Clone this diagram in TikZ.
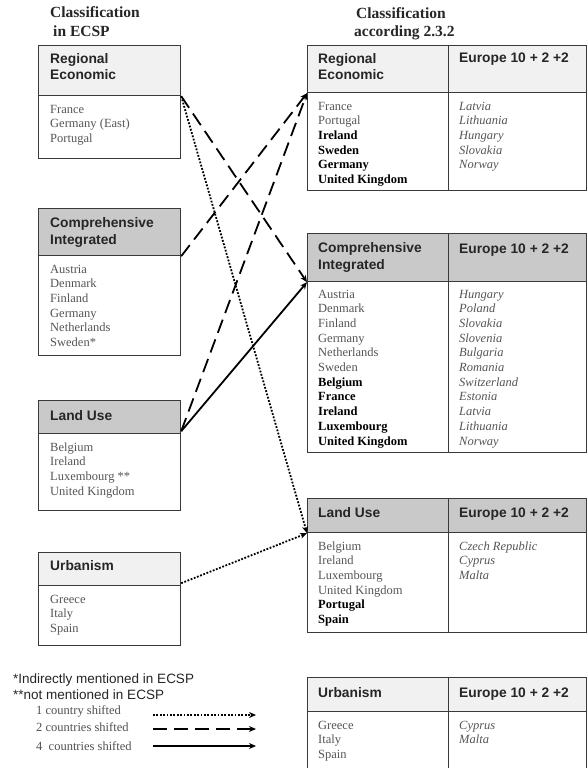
\documentclass[tikz,border=0pt]{standalone}
\usepackage{fontspec}
\setmainfont{Liberation Serif}
\setsansfont{Liberation Sans}
\usetikzlibrary{arrows.meta}
\definecolor{hlight}{HTML}{F1F1F1}
\definecolor{hdark}{HTML}{C9C9C9}
\definecolor{edge}{HTML}{3A3A3A}
\definecolor{plain}{HTML}{555555}
\definecolor{htext}{HTML}{262626}
\newcommand\Bo{\color{black}\bfseries}
\newcommand\colist[5]{%
  \foreach \t [count=\i from 0] in {#5} {%
    \node[#4, anchor=base west] (#1\i) at (#2, {#3+14.7*\i}) {\t};}}
\tikzset{
  cell/.style={draw=edge, line width=1.2pt, rectangle, inner sep=0pt, anchor=north west},
  hl/.style={cell, fill=hlight},
  hd/.style={cell, fill=hdark},
  bd/.style={cell, fill=white},
  htxt/.style={inner sep=0pt, font=\sffamily\bfseries\fontsize{13.8}{16.5}\selectfont, text=htext, align=left},
  ctry/.style={inner sep=0pt, font=\fontsize{12.5}{14.7}\selectfont, text=plain},
  ital/.style={ctry, font=\itshape\fontsize{12.5}{14.7}\selectfont},
  title/.style={inner sep=0pt, anchor=base west, font=\bfseries\fontsize{15.5}{18}\selectfont, text=htext},
  conn/.style={line width=1.8pt, -{Stealth[length=7pt,width=6pt]}},
  dotline/.style={conn, dash pattern=on 1.8pt off 1.6pt},
  dashline/.style={conn, dash pattern=on 14pt off 7pt},
  solidline/.style={conn},
}
\begin{document}
\begin{tikzpicture}[x=1pt, y=-1pt]
\clip (0,0) rectangle (587,768);
\fill[white] (0,0) rectangle (587,768);

% titles
\node[title] (t1) at (50,18) {Classification};
\node[title] (t2) at (53,37) {in ECSP};
\node[title] (t3) at (356,19) {Classification};
\node[title] (t4) at (354,37) {according 2.3.2};

% ---------- left boxes ----------
\node[hl, minimum width=142pt, minimum height=50pt] (reLh) at (38,45) {};
\node[bd, minimum width=142pt, minimum height=63pt] (reLb) at (38,95) {};
\node[htxt, anchor=base west] (reLt) at (50,80) {Regional\\Economic};
\colist{reLc}{50}{113}{ctry}{France,Germany (East),Portugal}

\node[hd, minimum width=142pt, minimum height=47pt] (ciLh) at (38,208) {};
\node[bd, minimum width=142pt, minimum height=100pt] (ciLb) at (38,255) {};
\node[htxt, anchor=base west] (ciLt) at (50,244) {Comprehensive\\Integrated};
\colist{ciLc}{50}{273}{ctry}{Austria,Denmark,Finland,Germany,Netherlands,Sweden*}

\node[hd, minimum width=142pt, minimum height=33pt] (luLh) at (38,400) {};
\node[bd, minimum width=142pt, minimum height=77pt] (luLb) at (38,433) {};
\node[htxt, anchor=base west] (luLt) at (50,420) {Land Use};
\colist{luLc}{50}{451}{ctry}{Belgium,Ireland,Luxembourg **,United Kingdom}

\node[hl, minimum width=142pt, minimum height=33pt] (urLh) at (38,552) {};
\node[bd, minimum width=142pt, minimum height=60pt] (urLb) at (38,585) {};
\node[htxt, anchor=base west] (urLt) at (50,570) {Urbanism};
\colist{urLc}{50}{603}{ctry}{Greece,Italy,Spain}

% ---------- right boxes ----------
\node[hl, minimum width=141pt, minimum height=47pt] (reRh) at (307,45) {};
\node[hl, minimum width=138pt, minimum height=47pt] (reRh2) at (448,45) {};
\node[bd, minimum width=141pt, minimum height=98pt] (reRb) at (307,92) {};
\node[bd, minimum width=138pt, minimum height=98pt] (reRb2) at (448,92) {};
\node[htxt, anchor=base west] (reRt) at (318,80) {Regional\\Economic};
\node[htxt, anchor=base west] (reRe) at (459,63) {Europe 10 + 2 +2};
\colist{reRc}{318}{110}{ctry}{France,Portugal,{\Bo Ireland},{\Bo Sweden},{\Bo Germany},{\Bo United Kingdom}}
\colist{reRi}{459}{110}{ital}{Latvia,Lithuania,Hungary,Slovakia,Norway}

\node[hd, minimum width=141pt, minimum height=48pt] (ciRh) at (307,233) {};
\node[hd, minimum width=138pt, minimum height=48pt] (ciRh2) at (448,233) {};
\node[bd, minimum width=141pt, minimum height=171pt] (ciRb) at (307,281) {};
\node[bd, minimum width=138pt, minimum height=171pt] (ciRb2) at (448,281) {};
\node[htxt, anchor=base west] (ciRt) at (318,269) {Comprehensive\\Integrated};
\node[htxt, anchor=base west] (ciRe) at (459,253) {Europe 10 + 2 +2};
\colist{ciRc}{318}{298}{ctry}{Austria,Denmark,Finland,Germany,Netherlands,Sweden,{\Bo Belgium},{\Bo France},{\Bo Ireland},{\Bo Luxembourg},{\Bo United Kingdom}}
\colist{ciRi}{459}{298}{ital}{Hungary,Poland,Slovakia,Slovenia,Bulgaria,Romania,Switzerland,Estonia,Latvia,Lithuania,Norway}

\node[hd, minimum width=141pt, minimum height=34pt] (luRh) at (307,498) {};
\node[hd, minimum width=138pt, minimum height=34pt] (luRh2) at (448,498) {};
\node[bd, minimum width=141pt, minimum height=100pt] (luRb) at (307,532) {};
\node[bd, minimum width=138pt, minimum height=100pt] (luRb2) at (448,532) {};
\node[htxt, anchor=base west] (luRt) at (318,517) {Land Use};
\node[htxt, anchor=base west] (luRe) at (459,517) {Europe 10 + 2 +2};
\colist{luRc}{318}{550}{ctry}{Belgium,Ireland,Luxembourg,United Kingdom,{\Bo Portugal},{\Bo Spain}}
\colist{luRi}{459}{550}{ital}{Czech Republic,Cyprus,Malta}

\node[hl, minimum width=141pt, minimum height=34pt] (urRh) at (307,677) {};
\node[hl, minimum width=138pt, minimum height=34pt] (urRh2) at (448,677) {};
\node[bd, minimum width=141pt, minimum height=75pt] (urRb) at (307,711) {};
\node[bd, minimum width=138pt, minimum height=75pt] (urRb2) at (448,711) {};
\node[htxt, anchor=base west] (urRt) at (318,697) {Urbanism};
\node[htxt, anchor=base west] (urRe) at (459,697) {Europe 10 + 2 +2};
\colist{urRc}{318}{729}{ctry}{Greece,Italy,Spain}
\colist{urRi}{459}{729}{ital}{Cyprus,Malta}

% ---------- connectors ----------
\draw[dotline] (reLh.south east) -- (luRh.south west);
\draw[dashline] (reLh.south east) -- (ciRh.south west);
\draw[dashline] (ciLh.south east) -- (reRh.south west);
\draw[dashline] ([yshift=3pt]luLh.south east) -- (reRh.south west);
\draw[solidline] ([yshift=3pt]luLh.south east) -- (ciRh.south west);
\draw[dotline] ([yshift=3pt]urLh.south east) -- (luRh.south west);

% ---------- legend ----------
\node[inner sep=0pt, anchor=base west, font=\sffamily\fontsize{13.5}{16}\selectfont, text=htext] (n1) at (13,683) {*Indirectly mentioned in ECSP};
\node[inner sep=0pt, anchor=base west, font=\sffamily\fontsize{13.5}{16}\selectfont, text=htext] (n2) at (13,699) {**not mentioned in ECSP};
\node[ctry, anchor=base west, text=htext!80] (g1) at (36,714) {1 country shifted};
\node[ctry, anchor=base west, text=htext!80] (g2) at (36,731) {2 countries shifted};
\node[ctry, anchor=base west, text=htext!80] (g3) at (36,750) {4\ \ countries shifted};
\coordinate (g1a) at (153,715);
\coordinate (g1b) at (256,715);
\coordinate (g2a) at (153,729);
\coordinate (g2b) at (256,729);
\coordinate (g3a) at (153,746);
\coordinate (g3b) at (256,746);
\draw[dotline] (g1a) -- (g1b);
\draw[dashline] (g2a) -- (g2b);
\draw[solidline] (g3a) -- (g3b);
\end{tikzpicture}
\end{document}
